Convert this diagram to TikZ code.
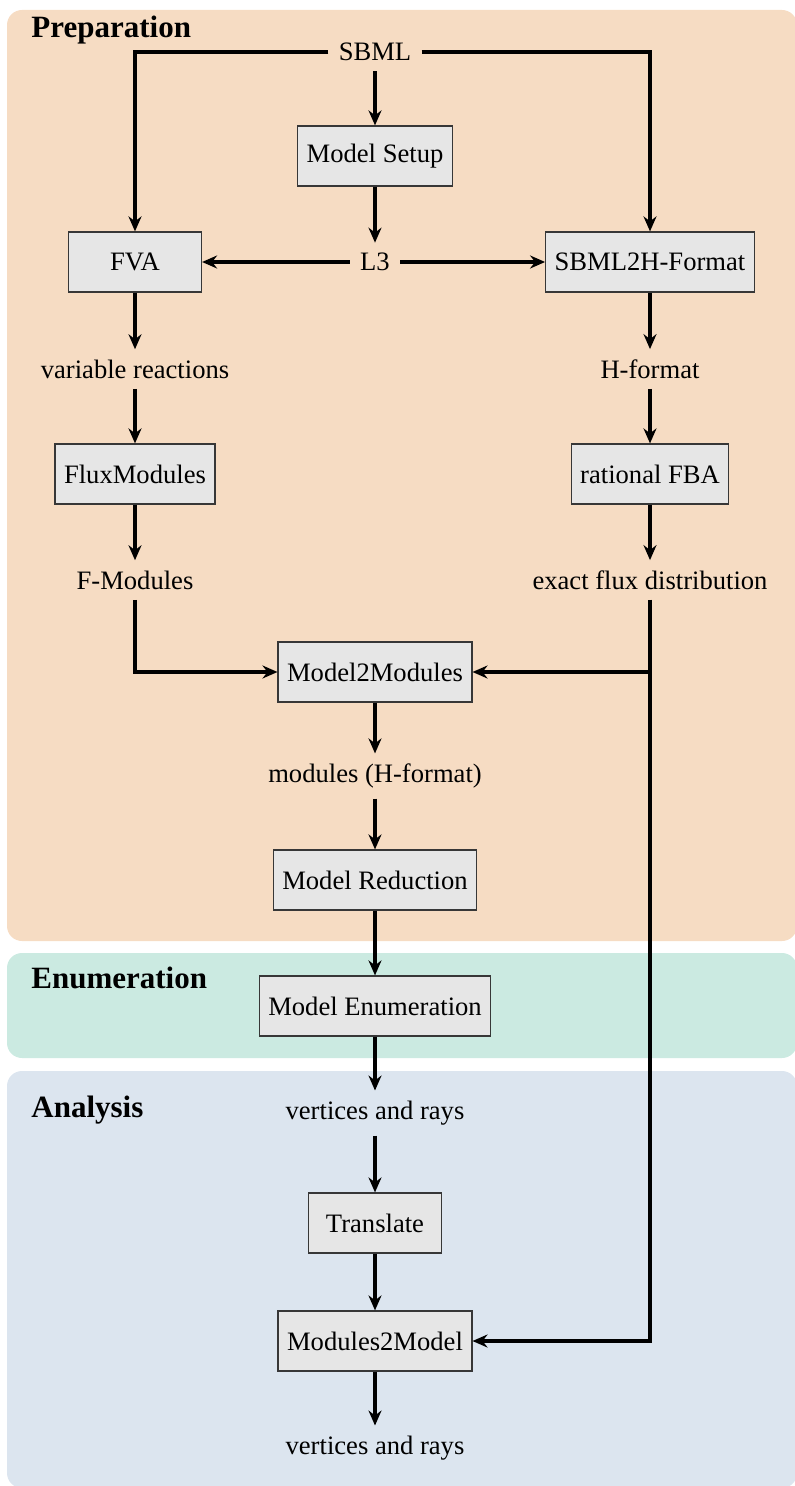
\documentclass[tikz,border=0pt]{standalone}
\usepackage{fontspec}
\setmainfont{Liberation Serif}
\usetikzlibrary{arrows.meta}
\definecolor{prepbg}{RGB}{246,220,195}
\definecolor{enumbg}{RGB}{203,234,225}
\definecolor{anabg}{RGB}{220,229,239}
\definecolor{boxfill}{RGB}{230,230,230}
\definecolor{boxline}{RGB}{55,55,55}
\begin{document}
\begin{tikzpicture}[x=0.5pt,y=-0.5pt,
  panel/.style={rounded corners=7.5pt},
  stage/.style={draw=boxline, line width=0.6pt, fill=boxfill,
    minimum width=66.5pt, minimum height=30pt, inner xsep=4.5pt,
    font=\fontsize{13.3}{16}\selectfont},
  data/.style={inner sep=5pt, font=\fontsize{13.3}{16}\selectfont},
  phase/.style={anchor=base west, inner sep=0pt,
    font=\bfseries\fontsize{15.5}{18}\selectfont},
  flow/.style={line width=2pt, -{Stealth[length=7.5pt,width=6.5pt,inset=2.5pt]}},
]
\useasboundingbox (0,0) rectangle (795,1486);

% phase panels
\fill[prepbg, panel] (7,10) rectangle (797,941);
\fill[enumbg, panel] (7,953) rectangle (797,1058);
\fill[anabg, panel] (7,1071) rectangle (797,1488);
\node[phase] (pprep) at (31,38) {Preparation};
\node[phase] (penum) at (31,988) {Enumeration};
\node[phase] (pana) at (31,1117) {Analysis};

% nodes
\node[data]  (sbml)  at (375,52)   {SBML};
\node[stage] (setup) at (375,156)  {Model Setup};
\node[data]  (l3)    at (375,262)  {L3};
\node[stage] (fva)   at (135,262)  {FVA};
\node[stage] (h2)    at (650,262)  {SBML2H-Format};
\node[data]  (varr)  at (135,369)  {variable reactions};
\node[data]  (hfmt)  at (650,369)  {H-format};
\node[stage] (flux)  at (135,474)  {FluxModules};
\node[stage] (rfba)  at (650,474)  {rational FBA};
\node[data]  (fmod)  at (135,580)  {F-Modules};
\node[data]  (exact) at (650,580)  {exact flux distribution};
\node[stage] (m2m)   at (375,672)  {Model2Modules};
\node[data]  (modh)  at (375,776)  {modules (H-format)};
\node[stage] (red)   at (375,880)  {Model Reduction};
\node[stage] (enum)  at (375,1006) {Model Enumeration};
\node[data]  (vr1)   at (375,1113) {vertices and rays};
\node[stage] (trans) at (375,1223) {Translate};
\node[stage] (mod2)  at (375,1341) {Modules2Model};
\node[data]  (vr2)   at (375,1448) {vertices and rays};

% connectors
\draw[flow] (sbml.west) -| (fva.north);
\draw[flow] (sbml.east) -| (h2.north);
\draw[flow] (sbml) -- (setup);
\draw[flow] (setup) -- (l3);
\draw[flow] (l3) -- (fva);
\draw[flow] (l3) -- (h2);
\draw[flow] (fva) -- (varr);
\draw[flow] (varr) -- (flux);
\draw[flow] (flux) -- (fmod);
\draw[flow] (h2) -- (hfmt);
\draw[flow] (hfmt) -- (rfba);
\draw[flow] (rfba) -- (exact);
\draw[flow] (fmod.south) |- (m2m.west);
\draw[flow] (exact.south) |- (m2m.east);
\draw[flow] (exact.south) |- (mod2.east);
\draw[flow] (m2m) -- (modh);
\draw[flow] (modh) -- (red);
\draw[flow] (red) -- (enum);
\draw[flow] (enum) -- (vr1);
\draw[flow] (vr1) -- (trans);
\draw[flow] (trans) -- (mod2);
\draw[flow] (mod2) -- (vr2);
\end{tikzpicture}
\end{document}
